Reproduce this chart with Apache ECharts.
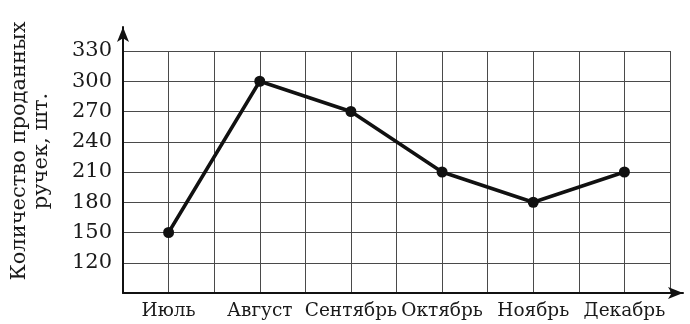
<!DOCTYPE html>
<html>
<head>
<meta charset="utf-8">
<script src="https://cdn.jsdelivr.net/npm/echarts@6/dist/echarts.min.js"></script>
<style>
  html, body { margin: 0; padding: 0; background: #fff; }
  #chart { width: 690px; height: 324px; }
</style>
</head>
<body>
<div id="chart"></div>
<script>
// Monthly pen sales, July to December
const months = ['Июль', 'Август', 'Сентябрь', 'Октябрь', 'Ноябрь', 'Декабрь'];
const sales = [150, 300, 270, 210, 180, 210];
const yTicks = [90, 120, 150, 180, 210, 240, 270, 300, 330];
const yTitle = 'Количество проданных\nручек, шт.';

const FONT = 'DejaVu Serif';
const TEXT = '#1a1a1a';
const yMin = yTicks[0];
const yMax = yTicks[yTicks.length - 1];
const yStep = yTicks[1] - yTicks[0];

// Each month sits on every second vertical grid line
const xMax = months.length * 2;
const points = months.map((m, i) => [2 * i + 1, sales[i]]);

const chart = echarts.init(document.getElementById('chart'), null, { renderer: 'canvas' });

const arrowAxis = {
  axisLine: { show: true, symbol: ['none', 'arrow'], symbolSize: [9, 15],
    lineStyle: { color: '#111', width: 2 } },
  axisTick: { show: false }, axisLabel: { show: false }, splitLine: { show: false }
};

chart.setOption({
  animation: false,
  backgroundColor: '#fff',
  grid: [
    { left: 123, right: 20, top: 51, bottom: 31 },
    { left: 123, right: 7, top: 27, bottom: 31 }
  ],
  // rotated two-line axis title
  graphic: [
    {
      type: 'text', x: 31, y: 151, rotation: Math.PI / 2,
      style: {
        text: yTitle, fontFamily: FONT, fontSize: 21, lineHeight: 22,
        fill: TEXT, align: 'center', verticalAlign: 'middle'
      }
    }
  ],
  xAxis: [
    {
      type: 'value', gridIndex: 0, min: 0, max: xMax, interval: 1,
      axisLine: { show: false }, axisTick: { show: false },
      splitLine: { show: true, lineStyle: { color: '#4a4a4a', width: 1 } },
      axisLabel: {
        margin: 9, fontFamily: FONT, fontSize: 18.5, color: TEXT,
        formatter: v => (v % 2 === 1 ? months[(v - 1) / 2] : '')
      }
    },
    Object.assign({ type: 'value', gridIndex: 1, min: 0, max: 1 }, arrowAxis)
  ],
  yAxis: [
    {
      type: 'value', gridIndex: 0, min: yMin, max: yMax, interval: yStep,
      axisLine: { show: false }, axisTick: { show: false },
      splitLine: { show: true, lineStyle: { color: '#4a4a4a', width: 1 } },
      axisLabel: {
        margin: 11, fontFamily: FONT, fontSize: 21, color: TEXT,
        formatter: v => (v === yMin ? '' : String(v))
      }
    },
    Object.assign({ type: 'value', gridIndex: 1, min: 0, max: 1 }, arrowAxis)
  ],
  series: [
    {
      type: 'line', xAxisIndex: 0, yAxisIndex: 0,
      data: points,
      symbol: 'circle', symbolSize: 11,
      lineStyle: { color: '#111', width: 3.5 },
      itemStyle: { color: '#111' },
      z: 5
    }
  ]
});
</script>
</body>
</html>
